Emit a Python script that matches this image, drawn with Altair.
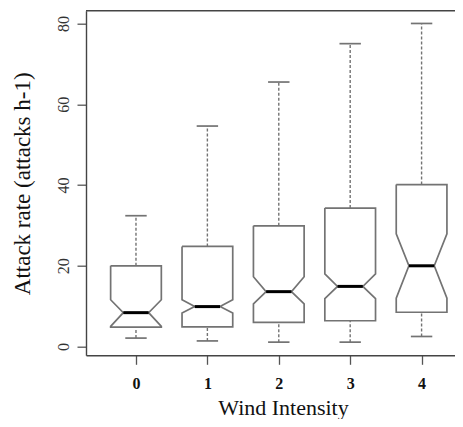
import altair as alt
import pandas as pd

# Values
groups = [0, 1, 2, 3, 4]
whisker_low = [2.1, 1.4, 1.1, 1.1, 2.5]
q1 = [4.8, 4.9, 6.0, 6.4, 8.5]
notch_low = [5.0, 8.3, 10.6, 11.9, 12.0]
median = [8.4, 9.9, 13.6, 14.9, 20.0]
notch_high = [11.6, 11.6, 17.3, 18.0, 27.9]
q3 = [20.0, 24.8, 29.9, 34.3, 40.1]
whisker_high = [32.4, 54.6, 65.5, 75.0, 80.0]
x_ticks = [0, 1, 2, 3, 4]
y_ticks = [0, 20, 40, 60, 80]

HW = 0.355   # box half width (x units)
CAP = 0.15   # staple half width

# notched box outlines (R bxp style)
rows = []
for g, a, nl, m, nh, b in zip(groups, q1, notch_low, median, notch_high, q3):
    pts = [
        (g - HW, b), (g - HW, nh), (g - HW / 2, m), (g - HW, nl), (g - HW, a),
        (g + HW, a), (g + HW, nl), (g + HW / 2, m), (g + HW, nh), (g + HW, b),
        (g - HW, b),
    ]
    for i, (px, py) in enumerate(pts):
        rows.append({"group": g, "order": i, "x": px, "y": py})
poly = pd.DataFrame(rows)

stats = pd.DataFrame({
    "group": groups, "wlo": whisker_low, "q1": q1, "med": median,
    "q3": q3, "whi": whisker_high,
})
stats["ml"] = stats["group"] - HW / 2
stats["mr"] = stats["group"] + HW / 2
stats["cl"] = stats["group"] - CAP
stats["cr"] = stats["group"] + CAP

W = 369
H = 344.6
xscale = alt.Scale(domain=[-0.7, 4.468], nice=False, zero=False)
yscale = alt.Scale(domain=[-2.16, 83.16], nice=False, zero=False)

FRAME = "#444444"
BOXC = "#737373"

xaxis = alt.Axis(
    values=x_ticks, format="d", title="Wind Intensity", grid=False,
    titleFont="Liberation Serif", titleFontSize=22, titleFontWeight="normal",
    titleColor="#111111", titleX=197, titleY=59, titleBaseline="alphabetic",
    labelFont="Liberation Serif", labelFontSize=16, labelFontWeight="bold",
    labelColor="#111111", labelPadding=11, labelFlush=False,
    tickSize=9, tickColor="#555555", tickWidth=1.3,
    domainColor=FRAME, domainWidth=1.4,
)
yaxis = alt.Axis(
    values=y_ticks, format="d", title="Attack rate (attacks h-1)", grid=False,
    titleFont="Liberation Serif", titleFontSize=23, titleFontWeight="normal",
    titleColor="#111111", titleAngle=-90, titleX=-57, titleY=172.6,
    titleBaseline="alphabetic", titleAlign="center",
    labelFont="Liberation Serif", labelFontSize=16, labelColor="#333333",
    labelAngle=-90, labelAlign="center", labelBaseline="alphabetic",
    labelPadding=8.5, labelFlush=False,
    tickSize=9, tickColor="#555555", tickWidth=1.3,
    domainColor=FRAME, domainWidth=1.4,
)


def X(f):
    return alt.X(f, type="quantitative", scale=xscale, axis=xaxis)


def Y(f):
    return alt.Y(f, type="quantitative", scale=yscale, axis=yaxis)


boxes = alt.Chart(poly).mark_line(color=BOXC, strokeWidth=1.7).encode(
    x=X("x"), y=Y("y"), detail="group:N", order="order:Q"
)

base = alt.Chart(stats)
upper_w = base.mark_rule(color=BOXC, strokeWidth=1.4, strokeDash=[3, 2]).encode(
    x=X("group"), y=Y("q3"), y2="whi"
)
lower_w = base.mark_rule(color=BOXC, strokeWidth=1.4, strokeDash=[3, 2]).encode(
    x=X("group"), y=Y("wlo"), y2="q1"
)
upper_cap = base.mark_rule(color=BOXC, strokeWidth=1.7).encode(
    x=X("cl"), x2="cr", y=Y("whi")
)
lower_cap = base.mark_rule(color=BOXC, strokeWidth=1.7).encode(
    x=X("cl"), x2="cr", y=Y("wlo")
)
med = base.mark_rule(color="#000000", strokeWidth=3).encode(
    x=X("ml"), x2="mr", y=Y("med")
)
top_line = alt.Chart(pd.DataFrame({"a": [0]})).mark_rule(
    color=FRAME, strokeWidth=1.4
).encode(x=alt.value(0), x2=alt.value(W), y=alt.value(0))

chart = alt.layer(
    upper_w, lower_w, upper_cap, lower_cap, boxes, med, top_line
).properties(
    width=W, height=H, autosize="none",
    padding={"left": 78, "top": 2.7, "right": 0, "bottom": 63.7},
    background="white",
).configure_view(stroke=None)

chart.save("out.html", embed_options={"renderer": "svg", "actions": False})
